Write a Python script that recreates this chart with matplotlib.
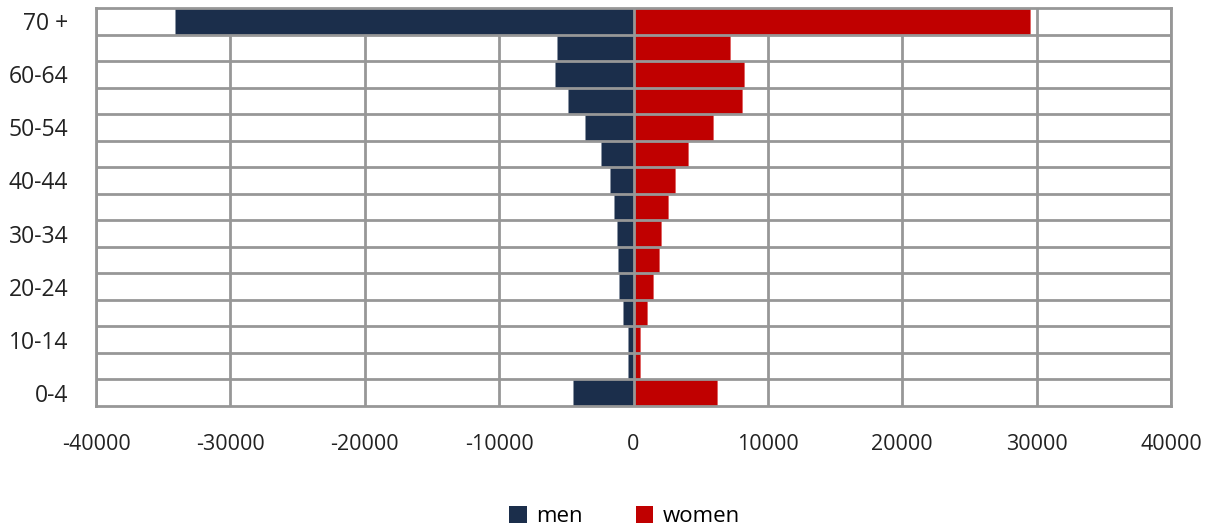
import numpy as np
from matplotlib import pyplot as plt
from matplotlib.patches import Patch

# Age groups from youngest to oldest
groups = ['0-4', '5-9', '10-14', '15-19', '20-24', '25-29', '30-34', '35-39',
          '40-44', '45-49', '50-54', '55-59', '60-64', '65-69', '70 +']
men = [4500, 400, 400, 800, 1080, 1180, 1250, 1450,
       1730, 2400, 3630, 4900, 5820, 5710, 34150]
women = [6240, 520, 520, 1000, 1450, 1870, 2070, 2540,
         3110, 4060, 5940, 8070, 8240, 7200, 29500]
xticks = [-40000, -30000, -20000, -10000, 0, 10000, 20000, 30000, 40000]

men_color = '#1b2e4b'
women_color = '#c00000'
grid_color = '#979797'

plt.rcParams['font.family'] = ['Open Sans', 'DejaVu Sans']

fig = plt.figure(figsize=(12.17, 5.29), dpi=100)
ax = fig.add_axes([0.0789, 0.2325, 0.8833, 0.7524])

y = np.arange(len(groups))
ax.barh(y, [-m for m in men], height=1.0, color=men_color,
        edgecolor='#8a94a3', linewidth=0.6, zorder=2)
ax.barh(y, women, height=1.0, color=women_color,
        edgecolor='#e06060', linewidth=0.6, zorder=2)

ax.set_xlim(-40000, 40000)
ax.set_ylim(-0.5, len(groups) - 0.5)

ax.set_xticks(xticks)
ax.set_xticklabels([str(v) for v in xticks], fontsize=15.5, color='#222222')
ax.set_yticks(y[::2])
ax.set_yticklabels(groups[::2], fontsize=16.5, color='#222222')
ax.tick_params(which='both', length=0)
ax.tick_params(axis='x', pad=20)
ax.tick_params(axis='y', pad=20)

# value gridlines sit behind the bars
for v in xticks:
    ax.axvline(v, color=grid_color, linewidth=2.0, zorder=1)
# category separators and the zero axis are drawn over the bars
for b in np.arange(0.5, len(groups) - 1, 1.0):
    ax.axhline(b, color=grid_color, linewidth=2.0, zorder=3)
ax.axvline(0, color=grid_color, linewidth=2.0, zorder=3)

for s in ax.spines.values():
    s.set_color(grid_color)
    s.set_linewidth(2.0)
    s.set_zorder(4)

handles = [Patch(facecolor=men_color, label='men'),
           Patch(facecolor=women_color, label='women')]
fig.legend(handles=handles, loc='center', bbox_to_anchor=(0.513, 0.024), ncol=2,
           frameon=False, fontsize=16, handlelength=0.8, handleheight=0.8,
           handletextpad=0.4, columnspacing=2.4)

fig.savefig('out.png', dpi=100)
